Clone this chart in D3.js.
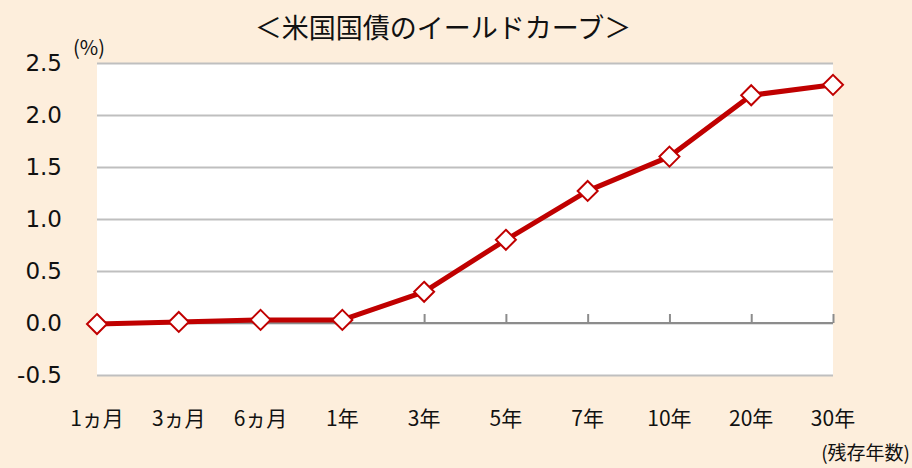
<!DOCTYPE html>
<html>
<head>
<meta charset="utf-8">
<script src="https://cdn.jsdelivr.net/npm/d3@7"></script>
<style>
body{margin:0;background:#FDEEDC}
svg{display:block}
</style>
</head>
<body>
<div id="chart"></div>
<script>
'use strict'
// 残存年数ごとの利回り (%)
const categories=['1ヵ月','3ヵ月','6ヵ月','1年','3年','5年','7年','10年','20年','30年']
const yields=[-0.01,0.01,0.03,0.03,0.30,0.80,1.27,1.60,2.19,2.29]
const yTicks=[-0.5,0,0.5,1.0,1.5,2.0,2.5]

const width=912,height=468
const margin={top:63,right:79,bottom:93,left:97}
const lineColor='#C00000'

let svg=d3.select('#chart').append('svg').attr('width',width).attr('height',height)
svg.append('rect').attr('width',width).attr('height',height).attr('fill','#FDEEDC')

let x=d3.scalePoint().domain(categories).range([margin.left,width-margin.right]).padding(0)
let y=d3.scaleLinear().domain([-0.5,2.5]).range([height-margin.bottom,margin.top])

// plot area
svg.append('rect').attr('x',margin.left).attr('y',margin.top)
  .attr('width',width-margin.left-margin.right).attr('height',height-margin.top-margin.bottom)
  .attr('fill','#fff')

// gridlines + y labels
let fmt=d3.format('.1f')
let yAxis=d3.axisLeft(y).tickValues(yTicks).tickSize(-(width-margin.left-margin.right)).tickPadding(35)
  .tickFormat(d=>fmt(d).replace('−','-'))
let gy=svg.append('g').attr('transform','translate('+margin.left+',0)').call(yAxis)
gy.select('.domain').remove()
gy.selectAll('.tick line').attr('stroke','#BFBFBF').attr('stroke-width',2)
gy.selectAll('.tick text').attr('font-family','DejaVu Sans, Verdana, sans-serif').attr('font-size',23).attr('fill','#111')

// zero axis with ticks
let xAxis=d3.axisTop(x).tickSize(9).tickFormat('')
let gx=svg.append('g').attr('transform','translate(0,'+y(0)+')').call(xAxis)
gx.select('.domain').attr('stroke','#8C8C8C').attr('stroke-width',2).attr('d','M'+margin.left+',0H'+(width-margin.right))
gx.selectAll('.tick line').attr('stroke','#8C8C8C').attr('stroke-width',2)

// category labels
svg.append('g').selectAll('text').data(categories).enter().append('text')
  .attr('x',d=>x(d)).attr('y',426).attr('text-anchor','middle')
  .attr('font-family','Noto Sans CJK JP, sans-serif').attr('font-size',21).attr('fill','#111')
  .text(d=>d)

// line
let line=d3.line().x((d,i)=>x(categories[i])).y(d=>y(d))
svg.append('path').datum(yields).attr('d',line).attr('fill','none')
  .attr('stroke',lineColor).attr('stroke-width',5).attr('stroke-linejoin','round')

// diamond markers
svg.append('g').selectAll('path').data(yields).enter().append('path')
  .attr('transform',(d,i)=>'translate('+x(categories[i])+','+y(d)+')')
  .attr('d','M0,-10L10,0L0,10L-10,0Z')
  .attr('fill','#fff').attr('stroke',lineColor).attr('stroke-width',2)

// texts
svg.append('text').attr('x',443).attr('y',38).attr('text-anchor','middle')
  .attr('font-family','Noto Sans CJK JP, sans-serif').attr('font-size',27).attr('fill','#111')
  .text('＜米国国債のイールドカーブ＞')
svg.append('text').attr('x',73).attr('y',55)
  .attr('font-family','Noto Sans CJK JP, sans-serif').attr('font-size',20).attr('fill','#111')
  .text('(%)')
svg.append('text').attr('x',910).attr('y',460).attr('text-anchor','end')
  .attr('font-family','Noto Sans CJK JP, sans-serif').attr('font-size',19).attr('fill','#111')
  .text('(残存年数)')
</script>
</body>
</html>
